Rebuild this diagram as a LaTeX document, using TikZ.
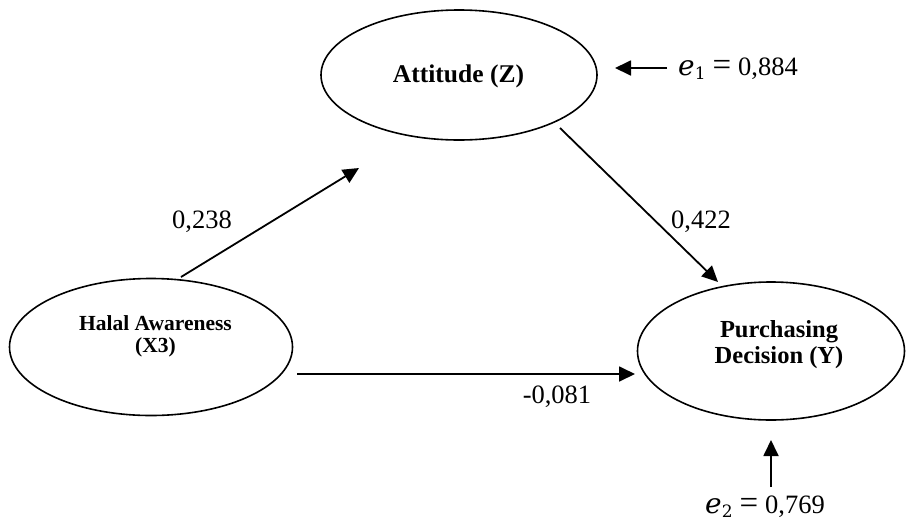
\documentclass[tikz,border=0pt]{standalone}
\usepackage{fontspec}
\setmainfont{Liberation Serif}
\newfontfamily\dvserif{DejaVu Serif}
\usetikzlibrary{arrows.meta,shapes.geometric}
\newcommand{\errterm}[2]{{\dvserif\itshape\fontsize{28}{30}\selectfont e}\raisebox{-4pt}{\dvserif\fontsize{17}{18}\selectfont #1}\hspace{7pt}{\fontsize{33}{30}\selectfont =}\hspace{7pt}#2}
\begin{document}
\begin{tikzpicture}[x=1pt,y=-1pt,
  latent/.style={draw,line width=1.6pt,ellipse,inner sep=0pt},
  path/.style={line width=1.8pt,-{Triangle[length=16pt,width=15pt]}},
  coef/.style={font=\fontsize{26.5}{28}\selectfont,inner sep=0pt,anchor=base},
  lbl/.style={font=\bfseries\fontsize{25.5}{28}\selectfont,inner sep=0pt,anchor=base},
  errlbl/.style={font=\fontsize{26.5}{28}\selectfont,anchor=base west,inner sep=0pt}]
\useasboundingbox (0,0) rectangle (908,528);
\node[latent,minimum width=276pt,minimum height=130pt] (att) at (459,75) {};
\node[lbl] (attl) at (458.5,82) {Attitude (Z)};
\node[latent,minimum width=283pt,minimum height=137pt] (hal) at (151,347) {};
\node[lbl,font=\bfseries\fontsize{21.5}{24}\selectfont] (hall1) at (155.5,330) {Halal Awareness};
\node[lbl,font=\bfseries\fontsize{21.5}{24}\selectfont] (hall2) at (155.5,352) {(X3)};
\node[latent,minimum width=267pt,minimum height=138pt] (pur) at (771,351) {};
\node[lbl,font=\bfseries\fontsize{24.5}{28}\selectfont] (purl1) at (779,337) {Purchasing};
\node[lbl,font=\bfseries\fontsize{24.5}{28}\selectfont] (purl2) at (779,363) {Decision (Y)};
\coordinate (a1s) at (181,277);
\coordinate (a1e) at (359,168);
\coordinate (a2s) at (560,128);
\coordinate (a2e) at (718,282);
\coordinate (a3s) at (297,374);
\coordinate (a3e) at (635,374);
\draw[path] (a1s) -- (a1e);
\draw[path] (a2s) -- (a2e);
\draw[path] (a3s) -- (a3e);
\node[coef] (c1) at (202,228) {0,238};
\node[coef] (c2) at (701,228) {0,422};
\node[coef] (c3) at (557,403) {-0,081};
\node[errlbl] (e1) at (678,75) {\errterm{1}{0,884}};
\coordinate (e1t) at (667,68);
\coordinate (e1h) at (615,68);
\draw[path] (e1t) -- (e1h);
\node[errlbl] (e2) at (705,513) {\errterm{2}{0,769}};
\coordinate (e2t) at (771,487);
\coordinate (e2h) at (771,440);
\draw[path] (e2t) -- (e2h);
\end{tikzpicture}
\end{document}
